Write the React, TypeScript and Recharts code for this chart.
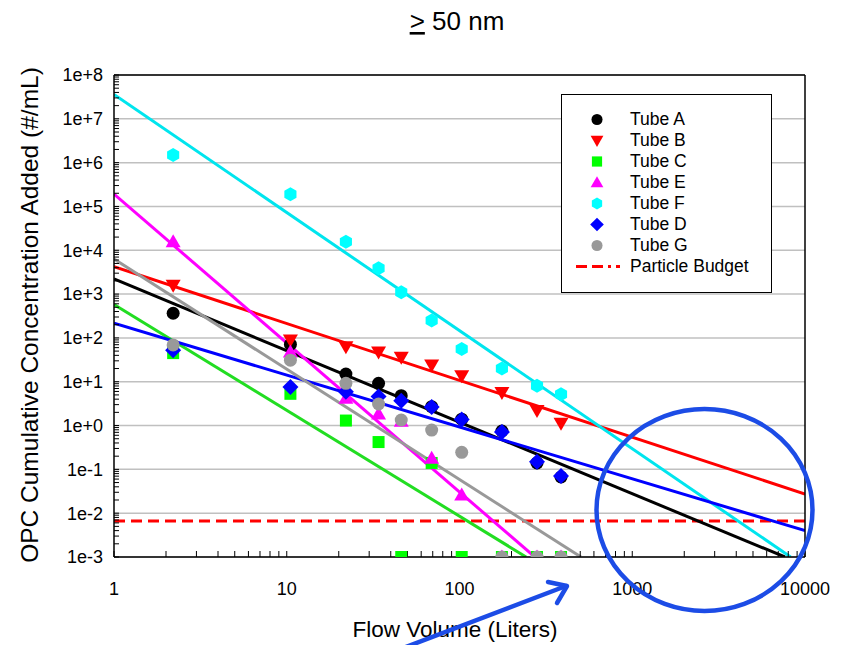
import React from 'react'
import { ComposedChart, Scatter, Line, XAxis, YAxis, CartesianGrid, Legend } from 'recharts'

// flow volume (L) at which every tube was sampled
const volume = [2.2, 10.5, 22, 34, 46, 69, 103, 176, 281, 387]

// OPC cumulative concentration added (#/mL); 0.001 = plotted on the floor
const tubeA = [365, 71, 15, 9.2, 4.8, 2.7, 1.4, 0.75, 0.14, 0.067]
const tubeB = [1600, 90, 63, 48, 36, 24, 13.7, 5.7, 2.2, 1.13]
const tubeC = [45, 5.3, 1.3, 0.42, 0.001, 0.14, 0.001, 0.001, 0.001, 0.001]
const tubeE = [15700, 48, 4.2, 1.84, 1.25, 0.18, 0.026, 0.001, 0.001, 0.001]
const tubeF = [1.49e6, 1.9e5, 1.57e4, 3880, 1100, 248, 56, 20, 8.1, 5.2]
const tubeD = [52, 7.6, 5.9, 4.6, 3.7, 2.65, 1.37, 0.71, 0.15, 0.071]
const tubeG = [69, 31, 9.2, 3.1, 1.34, 0.79, 0.245, 0.001, 0.001, 0.001]

// power-law trend lines, start and end points
const fitA = [{ x: 1, y: 2210 }, { x: 7660, y: 0.001 }]
const fitB = [{ x: 1, y: 4220 }, { x: 10000, y: 0.0274 }]
const fitC = [{ x: 1, y: 580 }, { x: 243, y: 0.001 }]
const fitE = [{ x: 1, y: 1.92e5 }, { x: 273, y: 0.001 }]
const fitF = [{ x: 1, y: 3.6e7 }, { x: 8260, y: 0.001 }]
const fitD = [{ x: 1, y: 216 }, { x: 10000, y: 0.004 }]
const fitG = [{ x: 1, y: 6320 }, { x: 505, y: 0.001 }]
const particleBudget = [{ x: 1, y: 0.0066 }, { x: 10000, y: 0.0066 }]

const xExps = [0, 1, 2, 3, 4]
const yExps = [-3, -2, -1, 0, 1, 2, 3, 4, 5, 6, 7, 8]

const logTicks = (exps: number[]) => {
  const out: number[] = []
  exps.forEach((e, i) => {
    if (i === exps.length - 1) out.push(Number(`1e${e}`))
    else for (let k = 1; k <= 9; k++) out.push(Number(`${k}e${e}`))
  })
  return out
}
const xTicks = logTicks(xExps)
const yTicks = logTicks(yExps)
const yGrid = yExps.map((e) => Number(`1e${e}`))

const isDecade = (v: number) => Math.abs(Math.log10(v) - Math.round(Math.log10(v))) < 1e-9
const fmtX = (v: number) => (isDecade(v) ? String(Math.round(v)) : '')
const fmtY = (v: number) => {
  if (!isDecade(v)) return ''
  const e = Math.round(Math.log10(v))
  return `1e${e >= 0 ? '+' : ''}${e}`
}

const tubes = [
  { name: 'Tube A', values: tubeA, fit: fitA, color: '#000000', line: '#000000', shape: 'circle' },
  { name: 'Tube B', values: tubeB, fit: fitB, color: '#ff0000', line: '#ff0000', shape: 'triDown' },
  { name: 'Tube C', values: tubeC, fit: fitC, color: '#00ff00', line: '#22dd22', shape: 'square' },
  { name: 'Tube E', values: tubeE, fit: fitE, color: '#ff00ff', line: '#ff00ff', shape: 'triUp' },
  { name: 'Tube F', values: tubeF, fit: fitF, color: '#00ffff', line: '#00e5ee', shape: 'hexagon' },
  { name: 'Tube D', values: tubeD, fit: fitD, color: '#0000ff', line: '#0000ff', shape: 'diamond' },
  { name: 'Tube G', values: tubeG, fit: fitG, color: '#999999', line: '#999999', shape: 'circle' },
]

function drawMarker(kind: string, cx: number, cy: number, fill: string, s = 1) {
  switch (kind) {
    case 'circle':
      return <circle cx={cx} cy={cy} r={6.5 * s} fill={fill} />
    case 'square':
      return <rect x={cx - 6 * s} y={cy - 6 * s} width={12 * s} height={12 * s} fill={fill} />
    case 'triDown':
      return <polygon points={`${cx - 7.5 * s},${cy - 5.5 * s} ${cx + 7.5 * s},${cy - 5.5 * s} ${cx},${cy + 7.5 * s}`} fill={fill} />
    case 'triUp':
      return <polygon points={`${cx - 7.5 * s},${cy + 5.5 * s} ${cx + 7.5 * s},${cy + 5.5 * s} ${cx},${cy - 7.5 * s}`} fill={fill} />
    case 'diamond':
      return <polygon points={`${cx},${cy - 8 * s} ${cx + 8 * s},${cy} ${cx},${cy + 8 * s} ${cx - 8 * s},${cy}`} fill={fill} />
    case 'hexagon': {
      const r = 7 * s
      const pts = [-90, -30, 30, 90, 150, 210]
        .map((a) => `${cx + r * Math.cos((a * Math.PI) / 180)},${cy + r * Math.sin((a * Math.PI) / 180)}`)
        .join(' ')
      return <polygon points={pts} fill={fill} />
    }
    default:
      return null
  }
}

const font = '"Liberation Sans", Arial, sans-serif'

const renderLegend = () => (
  <div
    style={{
      border: '1px solid #000',
      background: '#fff',
      width: 209,
      height: 183,
      boxSizing: 'content-box',
      paddingTop: 14,
      fontFamily: font,
      fontSize: 17.5,
      color: '#000',
    }}
  >
    {tubes.map((t) => (
      <div key={t.name} style={{ display: 'flex', alignItems: 'center', height: 21 }}>
        <svg width={68} height={21}>
          {drawMarker(t.shape, 35, 10.5, t.color, 0.85)}
        </svg>
        <span>{t.name}</span>
      </div>
    ))}
    <div style={{ display: 'flex', alignItems: 'center', height: 21 }}>
      <svg width={68} height={21}>
        <line x1={14} x2={58} y1={10.5} y2={10.5} stroke="#ff0000" strokeWidth={3} strokeDasharray="11 5 11 5 3 5" />
      </svg>
      <span>Particle Budget</span>
    </div>
  </div>
)

const tickStyle = { fontSize: 18, fill: '#000', fontFamily: font }

export default function App() {
  return (
    <div style={{ position: 'absolute', left: 0, top: 0, width: 843, height: 645, background: '#fff' }}>
      <ComposedChart width={843} height={645} margin={{ top: 74, right: 37, bottom: 58, left: 54 }}>
        <CartesianGrid vertical={false} horizontalValues={yGrid} stroke="#c0c0c0" strokeWidth={1.5} />
        <XAxis
          dataKey="x"
          type="number"
          scale="log"
          domain={[1, 10000]}
          allowDataOverflow
          ticks={xTicks}
          interval={0}
          tickFormatter={fmtX}
          tickSize={-6}
          tickMargin={31}
          height={30}
          tick={tickStyle}
          axisLine={{ stroke: '#000', strokeWidth: 1.5 }}
          tickLine={{ stroke: '#000' }}
        />
        <XAxis
          xAxisId="top"
          orientation="top"
          type="number"
          scale="log"
          domain={[1, 10000]}
          allowDataOverflow
          ticks={xTicks}
          interval={0}
          tick={false}
          tickSize={-6}
          height={1}
          axisLine={{ stroke: '#000', strokeWidth: 1.5 }}
          tickLine={{ stroke: '#000' }}
        />
        <YAxis
          dataKey="y"
          type="number"
          scale="log"
          domain={[1e-3, 1e8]}
          allowDataOverflow
          ticks={yTicks}
          interval={0}
          tickFormatter={fmtY}
          tickSize={-5}
          tickMargin={16}
          width={60}
          tick={tickStyle}
          axisLine={{ stroke: '#000', strokeWidth: 1.5 }}
          tickLine={{ stroke: '#000' }}
        />
        <YAxis
          yAxisId="right"
          orientation="right"
          type="number"
          scale="log"
          domain={[1e-3, 1e8]}
          allowDataOverflow
          ticks={yTicks}
          interval={0}
          tick={false}
          tickSize={-5}
          width={1}
          axisLine={{ stroke: '#000', strokeWidth: 1.5 }}
          tickLine={{ stroke: '#000' }}
        />
        <Legend
          layout="vertical"
          align="center"
          verticalAlign="middle"
          content={renderLegend}
          wrapperStyle={{ left: 561, top: 94, width: 211, height: 199 }}
        />
        <Line
          data={particleBudget}
          dataKey="y"
          stroke="#ff0000"
          strokeWidth={3}
          strokeDasharray="11 6"
          dot={false}
          activeDot={false}
          isAnimationActive={false}
          legendType="none"
        />
        {tubes.map((t) => (
          <Line
            key={`fit-${t.name}`}
            data={t.fit}
            dataKey="y"
            stroke={t.line}
            strokeWidth={3}
            dot={false}
            activeDot={false}
            isAnimationActive={false}
            legendType="none"
          />
        ))}
        {tubes.map((t) => (
          <Scatter
            key={t.name}
            name={t.name}
            data={volume.map((x, i) => ({ x, y: t.values[i] }))}
            dataKey="y"
            isAnimationActive={false}
            shape={(p: any) => drawMarker(t.shape, p.cx, p.cy, t.color)}
          />
        ))}
      </ComposedChart>
      <svg
        width={843}
        height={645}
        style={{ position: 'absolute', left: 0, top: 0, pointerEvents: 'none' }}
        fontFamily={font}
      >
        <text x={457} y={30} textAnchor="middle" fontSize={26}>
          <tspan textDecoration="underline">&gt;</tspan> 50 nm
        </text>
        <text x={455} y={637} textAnchor="middle" fontSize={22.5}>
          Flow Volume (Liters)
        </text>
        <text transform="translate(38,315) rotate(-90)" textAnchor="middle" fontSize={24.5}>
          OPC Cumulative Concentration Added (#/mL)
        </text>
        <ellipse cx={704.5} cy={510} rx={108} ry={101} fill="none" stroke="#1c4ce6" strokeWidth={4.5} />
        <line x1={398} y1={650} x2={566} y2={586} stroke="#1c4ce6" strokeWidth={4.5} strokeLinecap="round" />
        <polyline points="548,582 567,586 557,603" fill="none" stroke="#1c4ce6" strokeWidth={4.5} strokeLinecap="round" strokeLinejoin="round" />
      </svg>
    </div>
  )
}
